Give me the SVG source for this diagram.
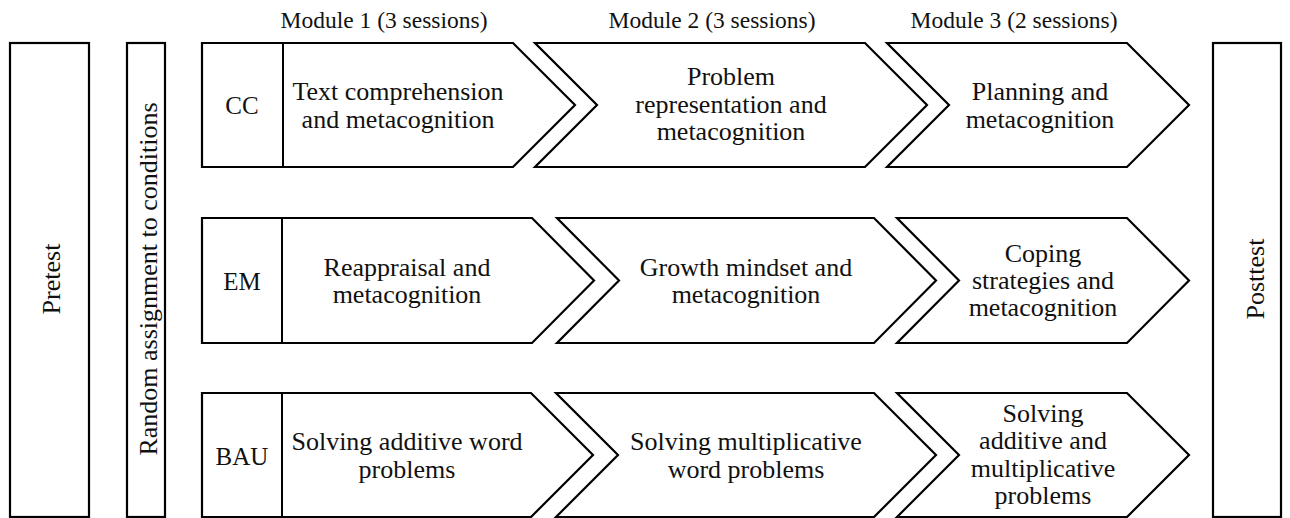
<svg xmlns="http://www.w3.org/2000/svg" width="1290" height="518" viewBox="0 0 1290 518" font-family="'Liberation Serif', 'Times New Roman', Times, 'DejaVu Serif', serif">
  <style>
    .box { fill: #ffffff; stroke: #000000; stroke-width: 2.2; stroke-linejoin: miter; }
    .div { stroke: #000000; stroke-width: 2; }
    .t { font-family: 'Liberation Serif', 'Times New Roman', Times, 'DejaVu Serif', serif; fill: #111111; }
    .body { font-size: 26px; text-anchor: middle; }
    .head { font-size: 23.5px; text-anchor: middle; }
    .lab { font-size: 25px; text-anchor: middle; }
    .vert { font-size: 26px; text-anchor: middle; }
  </style>
  <rect width="1290" height="518" fill="#ffffff"/>

  <!-- module headers -->
  <g id="headers">
    <text class="t head" x="384" y="28">Module 1 (3 sessions)</text>
    <text class="t head" x="712" y="28">Module 2 (3 sessions)</text>
    <text class="t head" x="1014" y="28">Module 3 (2 sessions)</text>
  </g>

  <!-- pretest column -->
  <g id="pretest">
    <rect class="box" x="10" y="43" width="79" height="474"/>
    <text class="t vert" transform="translate(60,279) rotate(-90)">Pretest</text>
  </g>

  <!-- random assignment column -->
  <g id="random-assignment">
    <rect class="box" x="127" y="43" width="38" height="474"/>
    <text class="t vert" transform="translate(157,279) rotate(-90)">Random assignment to conditions</text>
  </g>

  <!-- posttest column -->
  <g id="posttest">
    <rect class="box" x="1213" y="43" width="68" height="474"/>
    <text class="t vert" transform="translate(1264,279) rotate(-90)">Posttest</text>
  </g>

  <!-- CC row: label cell fused with the first module -->
  <g id="cc-module1">
    <polygon class="box" points="202,43 513,43 575,105 513,167 202,167"/>
    <line class="div" x1="283" y1="43" x2="283" y2="167"/>
    <text class="t lab" x="242" y="114">CC</text>
    <text class="t body" x="398" y="100">Text comprehension<tspan x="398" dy="27.5">and metacognition</tspan></text>
  </g>
  <g id="cc-module2">
    <polygon class="box" points="535,43 865,43 927,105 865,167 535,167 597,105"/>
    <text class="t body" x="731" y="85">Problem<tspan x="731" dy="27.5">representation and</tspan><tspan x="731" dy="27.5">metacognition</tspan></text>
  </g>
  <g id="cc-module3">
    <polygon class="box" points="887,43 1127,43 1189,105 1127,167 887,167 949,105"/>
    <text class="t body" x="1040" y="100">Planning and<tspan x="1040" dy="27.5">metacognition</tspan></text>
  </g>

  <!-- EM row -->
  <g id="em-module1">
    <polygon class="box" points="202,218 532,218 594,280.5 532,343 202,343"/>
    <line class="div" x1="282" y1="218" x2="282" y2="343"/>
    <text class="t lab" x="242" y="290">EM</text>
    <text class="t body" x="407" y="275.5">Reappraisal and<tspan x="407" dy="27.5">metacognition</tspan></text>
  </g>
  <g id="em-module2">
    <polygon class="box" points="557,218 874,218 936,280.5 874,343 557,343 619,280.5"/>
    <text class="t body" x="746" y="275.5">Growth mindset and<tspan x="746" dy="27.5">metacognition</tspan></text>
  </g>
  <g id="em-module3">
    <polygon class="box" points="897,218 1127,218 1189,280.5 1127,343 897,343 959,280.5"/>
    <text class="t body" x="1043" y="262">Coping<tspan x="1043" dy="27">strategies and</tspan><tspan x="1043" dy="27">metacognition</tspan></text>
  </g>

  <!-- BAU row -->
  <g id="bau-module1">
    <polygon class="box" points="202,393 531,393 593,455 531,517 202,517"/>
    <line class="div" x1="282" y1="393" x2="282" y2="517"/>
    <text class="t lab" x="242" y="465">BAU</text>
    <text class="t body" x="407" y="450">Solving additive word<tspan x="407" dy="27.5">problems</tspan></text>
  </g>
  <g id="bau-module2">
    <polygon class="box" points="556,393 874,393 936,455 874,517 556,517 618,455"/>
    <text class="t body" x="746" y="450">Solving multiplicative<tspan x="746" dy="27.5">word problems</tspan></text>
  </g>
  <g id="bau-module3">
    <polygon class="box" points="897,393 1127,393 1189,455 1127,517 897,517 959,455"/>
    <text class="t body" x="1043" y="422">Solving<tspan x="1043" dy="27.3">additive and</tspan><tspan x="1043" dy="27.3">multiplicative</tspan><tspan x="1043" dy="27.3">problems</tspan></text>
  </g>

  <!-- the chevrons abut directly, so there are no separate connectors -->
  <g id="connectors"/>
</svg>
